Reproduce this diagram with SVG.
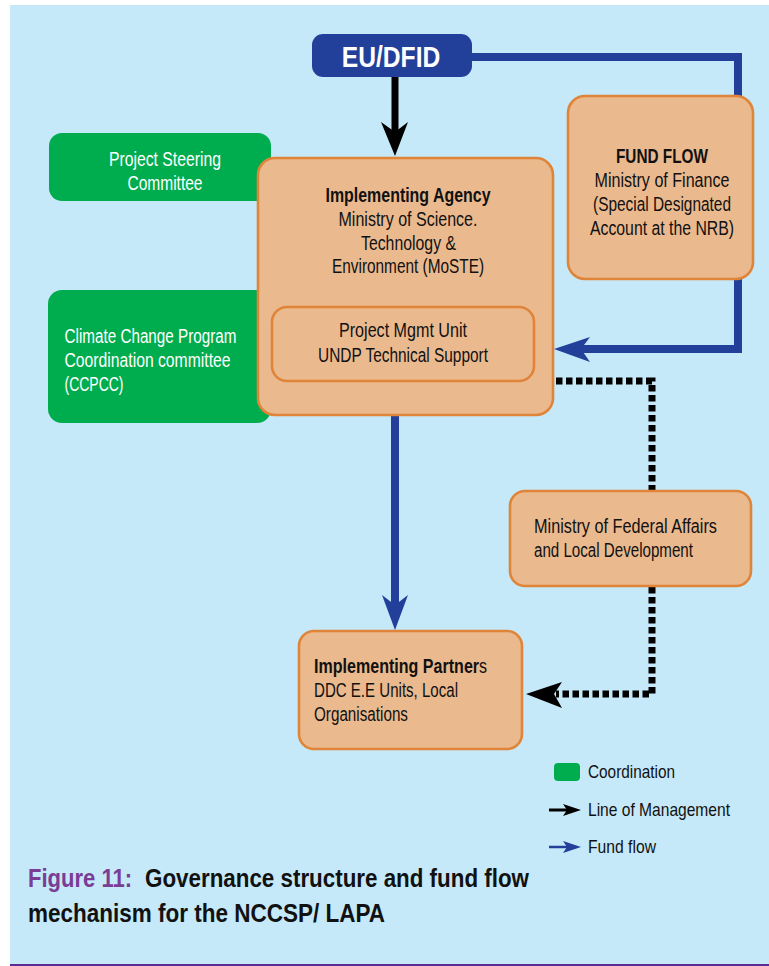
<svg xmlns="http://www.w3.org/2000/svg" width="769" height="966" viewBox="0 0 769 966">
<style>
text{font-family:"Liberation Sans Narrow","Liberation Sans",Arial,sans-serif;font-size:19.5px;fill:#111}
.b{font-weight:bold}
.w{fill:#fff}
.m{text-anchor:middle}
.box{fill:#EBB98E;stroke:#E0843A;stroke-width:2.6}
.green{fill:#00AD4E}
.fund{fill:none;stroke:#22409A;stroke-width:8}
.mgmt{fill:none;stroke:#000;stroke-width:7}
.dot{fill:none;stroke:#000;stroke-width:7;stroke-dasharray:6.5 3.5}
.leg{font-size:18.5px}
.cap{font-size:26px;font-weight:bold}
</style>
<rect x="10" y="5" width="759" height="959" fill="#C5E9F8"/>
<rect x="10" y="964" width="759" height="2.5" fill="#5C2D91"/>

<g id="psc">
<rect class="green" x="49" y="133" width="222" height="68" rx="13"/>
<text class="w m" x="165" y="165.5" textLength="112" lengthAdjust="spacingAndGlyphs">Project Steering</text>
<text class="w m" x="165" y="189.5" textLength="75" lengthAdjust="spacingAndGlyphs">Committee</text>
</g>
<g id="ccpcc">
<rect class="green" x="48" y="290" width="223" height="133" rx="14"/>
<text class="w" x="64.5" y="343" textLength="172" lengthAdjust="spacingAndGlyphs">Climate Change Program</text>
<text class="w" x="64.5" y="367" textLength="166" lengthAdjust="spacingAndGlyphs">Coordination committee</text>
<text class="w" x="64.5" y="391" textLength="59" lengthAdjust="spacingAndGlyphs">(CCPCC)</text>
</g>

<g id="connectors">
<polyline class="fund" points="470,57 738,57 738,97"/>
<polyline class="fund" points="738,278 738,349 580,349"/>
<polygon points="554,349 590,337 581,349 590,362" fill="#22409A"/>
<line class="fund" x1="395" y1="414" x2="395" y2="606"/>
<polygon points="395,630 382,595 395,605 408,595" fill="#22409A"/>
<line class="mgmt" x1="395" y1="76" x2="395" y2="133"/>
<polygon points="395,156 381,122 395,132 408,122" fill="#000"/>
<polyline class="dot" points="556,381 652,381 652,491"/>
<polyline class="dot" points="652,587 652,694 556,694"/>
<polygon points="526,694 562,682 554,694 562,708" fill="#000"/>
</g>

<g id="eudfid">
<rect x="312" y="34" width="160" height="43" rx="11" fill="#22409A"/>
<text class="b w m" x="391" y="67" style="font-size:29px" textLength="98.5" lengthAdjust="spacingAndGlyphs">EU/DFID</text>
</g>

<g id="ia">
<rect class="box" x="258" y="158" width="295" height="257" rx="17"/>
<text class="b m" x="408" y="201.7" textLength="165" lengthAdjust="spacingAndGlyphs">Implementing Agency</text>
<text class="m" x="408" y="226" textLength="139" lengthAdjust="spacingAndGlyphs">Ministry of Science.</text>
<text class="m" x="408.5" y="250" textLength="95" lengthAdjust="spacingAndGlyphs">Technology &amp;</text>
<text class="m" x="408" y="273.3" textLength="152" lengthAdjust="spacingAndGlyphs">Environment (MoSTE)</text>
</g>
<g id="pmu">
<rect class="box" x="272" y="307" width="262" height="74" rx="15"/>
<text class="m" x="403" y="337" textLength="128" lengthAdjust="spacingAndGlyphs">Project Mgmt Unit</text>
<text class="m" x="403" y="361.5" textLength="170" lengthAdjust="spacingAndGlyphs">UNDP Technical Support</text>
</g>

<g id="fundflow">
<rect class="box" x="568" y="96" width="185" height="183" rx="17"/>
<text class="b m" x="662" y="163.3" textLength="92" lengthAdjust="spacingAndGlyphs">FUND FLOW</text>
<text class="m" x="662" y="187.3" textLength="135" lengthAdjust="spacingAndGlyphs">Ministry of Finance</text>
<text class="m" x="662" y="211.3" textLength="138" lengthAdjust="spacingAndGlyphs">(Special Designated</text>
<text class="m" x="662" y="235.3" textLength="144" lengthAdjust="spacingAndGlyphs">Account at the NRB)</text>
</g>

<g id="mofald">
<rect class="box" x="510" y="491" width="241" height="95" rx="15"/>
<text x="534" y="533" textLength="183" lengthAdjust="spacingAndGlyphs">Ministry of Federal Affairs</text>
<text x="534" y="557" textLength="159" lengthAdjust="spacingAndGlyphs">and Local Development</text>
</g>

<g id="ip">
<rect class="box" x="299" y="631" width="223" height="118" rx="15"/>
<text transform="translate(314,673) scale(0.824,1)"><tspan class="b">Implementing Partner</tspan>s</text>
<text x="314" y="697" textLength="144" lengthAdjust="spacingAndGlyphs">DDC E.E Units, Local</text>
<text x="314" y="721" textLength="94" lengthAdjust="spacingAndGlyphs">Organisations</text>
</g>

<g id="legend">
<rect class="green" x="554" y="763" width="26" height="18" rx="4"/>
<text class="leg" x="588" y="778" textLength="87" lengthAdjust="spacingAndGlyphs">Coordination</text>
<line x1="549" y1="810" x2="568" y2="810" stroke="#000" stroke-width="3"/>
<polygon points="581,810 563,804 567,810 563,816" fill="#000"/>
<text class="leg" x="588" y="816" textLength="142" lengthAdjust="spacingAndGlyphs">Line of Management</text>
<line x1="549" y1="847" x2="568" y2="847" stroke="#22409A" stroke-width="2.5"/>
<polygon points="581,847 563,841 567,847 563,853" fill="#22409A"/>
<text class="leg" x="588" y="853" textLength="68" lengthAdjust="spacingAndGlyphs">Fund flow</text>
</g>

<g id="caption">
<text class="cap" x="28" y="887" style="fill:#7B3C96" textLength="104" lengthAdjust="spacingAndGlyphs">Figure 11:</text>
<text class="cap" x="145" y="887" textLength="384" lengthAdjust="spacingAndGlyphs">Governance structure and fund flow</text>
<text class="cap" x="28" y="921.5" textLength="357" lengthAdjust="spacingAndGlyphs">mechanism for the NCCSP/ LAPA</text>
</g>
</svg>
